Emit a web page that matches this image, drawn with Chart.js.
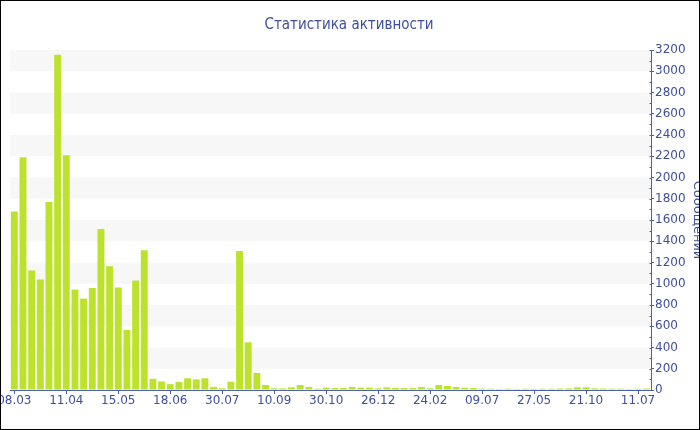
<!DOCTYPE html>
<html>
<head>
<meta charset="utf-8">
<script src="https://cdn.jsdelivr.net/npm/chart.js@4/dist/chart.umd.min.js"></script>
<style>
  html, body { margin: 0; padding: 0; background: #fff; }
  #frame {
    position: relative; width: 700px; height: 430px;
    box-sizing: border-box; border: 1px solid #000;
    overflow: hidden; background: #fff;
  }
  #c { position: absolute; left: 0; top: 0; }
</style>
</head>
<body>
<div id="frame"><canvas id="c" width="700" height="428"></canvas></div>
<script>
// Messages per period
const messages = [
  1680, 2190, 1125, 1040, 1770, 3155, 2210, 945, 860, 960,
  1515, 1165, 965, 565, 1030, 1315, 105, 80, 55, 75,
  110, 100, 110, 30, 16, 78, 1308, 449, 160, 47,
  16, 16, 25, 47, 28, 12, 22, 19, 19, 28,
  22, 22, 16, 25, 19, 19, 19, 28, 16, 47,
  38, 28, 22, 19, 12, 12, 10, 12, 10, 12,
  10, 12, 12, 14, 16, 25, 25, 16, 14, 12,
  12, 10, 12, 14
];

// Dates shown under the axis, one every TICK_EVERY periods
const tickLabels = [
  '08.03', '11.04', '15.05', '18.06', '30.07', '10.09', '30.10',
  '26.12', '24.02', '09.07', '27.05', '21.10', '11.07'
];
const TICK_EVERY = 6;

const periods = messages.map((_, i) => i + 1);

const TEXT = '#3e5099';
const AXIS = '#4d60ad';
const BAR = '#bde22e';
const BAND = '#f7f7f7';
const FONT = '"DejaVu Sans", Verdana, sans-serif';

// Alternating horizontal bands behind the bars
const bandsPlugin = {
  id: 'bands',
  beforeDatasetsDraw(chart) {
    const y = chart.scales.y;
    const area = chart.chartArea;
    const ctx = chart.ctx;
    ctx.save();
    ctx.fillStyle = BAND;
    const step = 200;
    for (let v = y.min; v < y.max; v += step) {
      if (Math.round(v / step) % 2 === 1) {
        const top = y.getPixelForValue(v + step);
        const bot = y.getPixelForValue(v);
        ctx.fillRect(area.left, top, area.right - area.left, bot - top);
      }
    }
    ctx.restore();
  }
};

// Short inner ticks on the value axis (every 100)
const innerTicksPlugin = {
  id: 'innerTicks',
  afterDraw(chart) {
    const y = chart.scales.y;
    const ctx = chart.ctx;
    const x0 = Math.round(chart.chartArea.right) + 0.5;
    ctx.save();
    ctx.strokeStyle = AXIS;
    ctx.lineWidth = 1;
    ctx.beginPath();
    for (let v = y.min; v <= y.max; v += 100) {
      const py = Math.round(y.getPixelForValue(v)) + 0.5;
      ctx.moveTo(x0 - 2, py);
      ctx.lineTo(x0, py);
    }
    ctx.stroke();
    ctx.restore();
  }
};

new Chart(document.getElementById('c'), {
  type: 'bar',
  data: {
    labels: periods,
    datasets: [{
      data: messages,
      backgroundColor: BAR,
      borderWidth: 0,
      barPercentage: 0.8,
      categoryPercentage: 1.0
    }]
  },
  plugins: [bandsPlugin, innerTicksPlugin],
  options: {
    responsive: false,
    animation: false,
    devicePixelRatio: 1,
    layout: { padding: { left: 9, right: 13, top: 0, bottom: 0 } },
    plugins: {
      legend: { display: false },
      tooltip: { enabled: false },
      title: {
        display: true,
        text: 'Статистика активности',
        color: TEXT,
        font: { family: '"DejaVu Sans Condensed", "DejaVu Sans", sans-serif', size: 15, weight: 'normal' },
        padding: { top: 15, bottom: 16 }
      }
    },
    scales: {
      x: {
        type: 'category',
        offset: true,
        grid: {
          display: true,
          drawOnChartArea: false,
          drawTicks: true,
          tickLength: 4,
          offset: false,
          color: AXIS
        },
        border: { display: true, color: AXIS, width: 1 },
        ticks: {
          autoSkip: false,
          maxRotation: 0,
          padding: 0,
          color: TEXT,
          font: { family: FONT, size: 12 },
          callback: (value, index) => tickLabels[index]
        },
        afterBuildTicks(scale) {
          scale.ticks = scale.ticks.filter(t => t.value % TICK_EVERY === 0);
        },
        afterFit(scale) {
          scale.paddingLeft = 0;
          scale.paddingRight = 0;
          scale.height = 39;
        }
      },
      y: {
        position: 'right',
        min: 0,
        max: 3200,
        grid: {
          display: true,
          drawOnChartArea: false,
          drawTicks: true,
          tickLength: 3,
          color: AXIS
        },
        border: { display: true, color: AXIS, width: 1 },
        ticks: {
          stepSize: 200,
          padding: 1,
          color: TEXT,
          font: { family: FONT, size: 12 },
          callback: (value) => String(value)
        },
        title: {
          display: true,
          text: 'Сообщений',
          color: TEXT,
          font: { family: FONT, size: 13 },
          padding: { top: -17, bottom: 0 }
        },
        afterFit(scale) {
          scale.width = 37;
        }
      }
    }
  }
});
</script>
</body>
</html>
